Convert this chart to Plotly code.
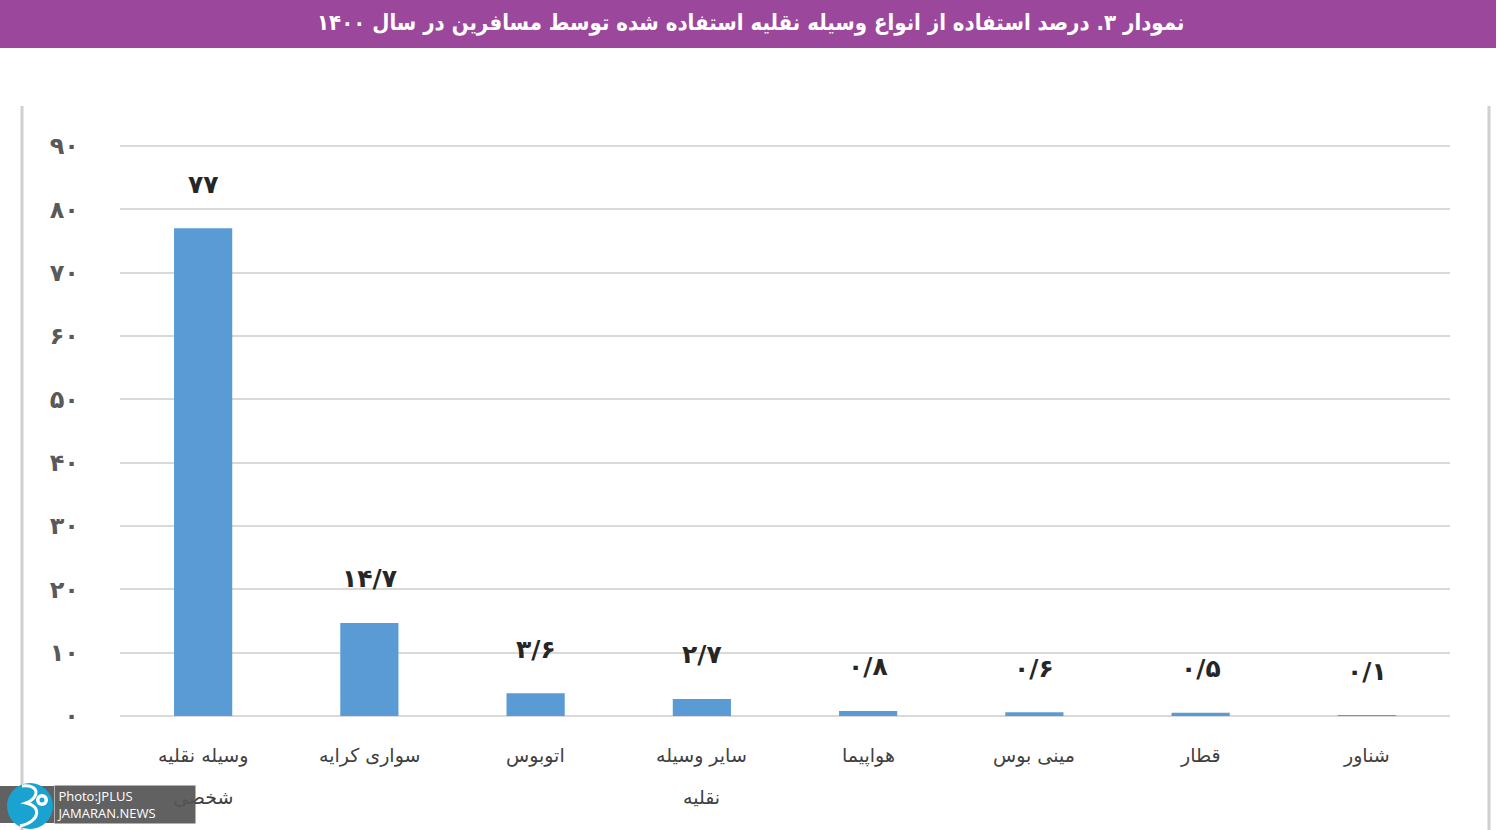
import plotly.graph_objects as go

# Share of passenger trips by vehicle type, year 1400 (percent)
categories = [
    "وسیله نقلیه<br>شخصی",
    "سواری کرایه",
    "اتوبوس",
    "سایر وسیله<br>نقلیه",
    "هواپیما",
    "مینی بوس",
    "قطار",
    "شناور",
]
shares = [77, 14.7, 3.6, 2.7, 0.8, 0.6, 0.5, 0.1]
y_ticks = [0, 10, 20, 30, 40, 50, 60, 70, 80, 90]
title_text = "نمودار ۳. درصد استفاده از انواع وسیله نقلیه استفاده شده توسط مسافرین در سال ۱۴۰۰"

FA_DIGITS = str.maketrans("0123456789.", "۰۱۲۳۴۵۶۷۸۹/")


def fa(num):
    s = f"{num:g}"
    return s.translate(FA_DIGITS)


W, H = 1500, 830
L, R, T, B = 120, 50, 144, 114
PW, PH = W - L - R, H - T - B
Y_TOP = 90.3


def px(x):
    return (x - L) / PW


def py(y):
    return (H - B - y) / PH


FONT = "DejaVu Sans"

fig = go.Figure(
    go.Bar(
        x=list(range(len(categories))),
        y=shares,
        width=0.35,
        marker=dict(color="#5B9BD5", line=dict(width=0)),
        hoverinfo="skip",
    )
)

# value labels above each bar
for i, v in enumerate(shares):
    fig.add_annotation(
        x=i, y=v, text=f"<b>{fa(v)}</b>", showarrow=False, yshift=44,
        font=dict(family=FONT, size=25, color="#262626"),
    )

# category labels under the axis, one annotation per text line
for i, name in enumerate(categories):
    for k, line in enumerate(name.split("<br>")):
        fig.add_annotation(
            x=i, y=0, yref="y", text=line, showarrow=False,
            yshift=-39 - 42 * k, yanchor="middle",
            font=dict(family=FONT, size=19, color="#404040"),
        )

WM_GRAY = "rgba(85,85,85,0.93)"

shapes = [
    # title bar
    dict(type="rect", xref="paper", yref="paper", x0=px(0), x1=px(1496),
         y0=py(48), y1=py(0), fillcolor="#9B479C", line=dict(width=0), layer="below"),
    # frame sides
    dict(type="line", xref="paper", yref="paper", x0=px(22), x1=px(22),
         y0=py(106), y1=py(830), line=dict(color="#D0D0D0", width=3)),
    dict(type="line", xref="paper", yref="paper", x0=px(1489), x1=px(1489),
         y0=py(106), y1=py(830), line=dict(color="#D0D0D0", width=3)),
    # watermark: left part of the box and the round logo
    dict(type="rect", xref="paper", yref="paper", x0=px(0), x1=px(54),
         y0=py(823), y1=py(786), fillcolor=WM_GRAY, line=dict(width=0)),
    dict(type="circle", xref="paper", yref="paper", x0=px(7), x1=px(53),
         y0=py(829), y1=py(783), fillcolor="#1AA3D1", line=dict(width=0)),
    dict(type="circle", xref="paper", yref="paper", x0=px(36), x1=px(48),
         y0=py(806), y1=py(794), fillcolor="white", line=dict(width=0)),
    dict(type="circle", xref="paper", yref="paper", x0=px(39.5), x1=px(44.5),
         y0=py(802.5), y1=py(797.5), fillcolor="#1AA3D1", line=dict(width=0)),
]

# logo swirl, pixel coordinates converted to paper space
swirl_pts = [("M", [(22, 786)]), ("C", [(40, 784), (40, 798), (26, 803)]),
             ("C", [(42, 806), (40, 822), (20, 826)])]
path = " ".join(
    cmd + " " + " ".join(f"{px(a):.5f},{py(b):.5f}" for a, b in pts)
    for cmd, pts in swirl_pts
)
shapes.append(dict(type="path", xref="paper", yref="paper", path=path,
                   line=dict(color="white", width=3)))

fig.add_annotation(
    xref="paper", yref="paper", x=px(750), y=py(23), text=f"<b>{title_text}</b>",
    showarrow=False, font=dict(family="DejaVu Sans Condensed", size=22, color="white"),
    xanchor="center", yanchor="middle",
)

# watermark text box (drawn last so it sits over the axis labels)
fig.add_annotation(
    xref="paper", yref="paper", x=px(54), y=py(804.5),
    text="&nbsp;Photo:JPLUS<br>&nbsp;JAMARAN.NEWS", align="left",
    showarrow=False, xanchor="left", yanchor="middle",
    width=140, height=37, borderpad=0, bgcolor=WM_GRAY,
    font=dict(family="Open Sans", size=13, color="white"),
)

fig.update_layout(
    width=W, height=H,
    margin=dict(l=L, r=R, t=T, b=B, pad=0),
    paper_bgcolor="white", plot_bgcolor="white",
    showlegend=False,
    shapes=shapes,
    xaxis=dict(
        range=[-0.5, len(categories) - 0.5],
        showgrid=False, zeroline=False, showline=False, ticks="",
        showticklabels=False,
    ),
    yaxis=dict(
        range=[0, Y_TOP], tickmode="array", tickvals=y_ticks,
        ticktext=[f"<b>{fa(t)}</b>" for t in y_ticks],
        showgrid=True, gridcolor="#D9D9D9", gridwidth=2,
        zeroline=True, zerolinecolor="#D9D9D9", zerolinewidth=2,
        showline=False, ticks="",
        tickfont=dict(family=FONT, size=24, color="#595959"),
        ticklabelstandoff=40,
    ),
)

fig.write_html("out.html")
